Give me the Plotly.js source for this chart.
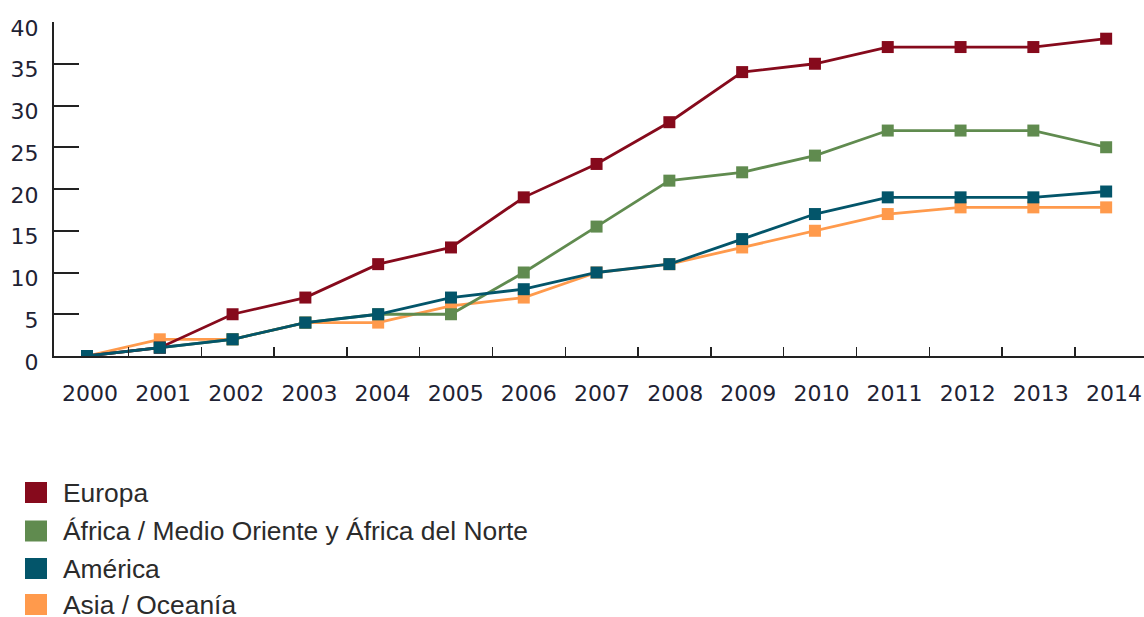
<!DOCTYPE html>
<html>
<head>
<meta charset="utf-8">
<script src="https://cdn.plot.ly/plotly-3.0.1.min.js"></script>
<style>html,body{margin:0;padding:0;background:#fff;}#chart{width:1144px;height:617px;}</style>
</head>
<body>
<div id="chart"></div>
<script>
var years = [2000,2001,2002,2003,2004,2005,2006,2007,2008,2009,2010,2011,2012,2013,2014];
var europa  = [0,1,5,7,11,13,19,23,28,34,35,37,37,37,38];
var africa  = [0,1,2,4,5,5,10,15.5,21,22,24,27,27,27,25];
var america = [0,1,2,4,5,7,8,10,11,14,17,19,19,19,19.7];
var asia    = [0,2,2,4,4,6,7,10,11,13,15,17,17.8,17.8,17.8];
var names = ['Europa','África / Medio Oriente y África del Norte','América','Asia / Oceanía'];
var colors = ['#860a1c','#608b4f','#03556a','#ff9a4c'];
var yTicks = [0,5,10,15,20,25,30,35,40];

var W = 1144, H = 617, ML = 54, MR = 0, MT = 22, MB = 261;
var PW = W - ML - MR, PH = H - MT - MB;
function px(p){ return (p - ML) / PW; }
function py(p){ return (H - MB - p) / PH; }

function line(y, i){
  return {x: years, y: y, type:'scatter', mode:'lines+markers', showlegend:false,
    line:{color:colors[i], width:2.8}, marker:{symbol:'square', size:12, color:colors[i]},
    hoverinfo:'x+y', name:names[i]};
}
var data = [line(asia,3), line(africa,1), line(europa,0), line(america,2)];
// trace carrying the overlay axis used for the year labels
data.push({x:[years[0]], y:[null], xaxis:'x2', yaxis:'y', type:'scatter', mode:'markers', showlegend:false, hoverinfo:'skip'});

// legend drawn as squares + texts
var legRowY = [492.5, 531, 568.5, 604.5];
var shapes = [], annotations = [];
names.forEach(function(n, i){
  var cy = legRowY[i];
  shapes.push({type:'rect', xref:'paper', yref:'paper', x0:px(25), x1:px(47), y0:py(cy-10.5), y1:py(cy+10.5),
    fillcolor:colors[i], line:{width:0}});
  annotations.push({xref:'paper', yref:'paper', x:px(61), y:py(cy), xanchor:'left', yanchor:'middle', text:n,
    showarrow:false, font:{family:'Liberation Sans, Arial, sans-serif', size:26.4, color:'#2b2b2b'}});
});

var dataRange = [1999.547, 2014.52];
var labelRange = [1999.508, 2014.41];
var tickFont = {family:'DejaVu Sans, sans-serif', size:22, color:'#1e2233'};
var layout = {
  width:W, height:H,
  margin:{l:ML, r:MR, t:MT, b:MB},
  paper_bgcolor:'#fff', plot_bgcolor:'#fff',
  font:{family:'DejaVu Sans, sans-serif', color:'#1e2233'},
  showlegend:false,
  xaxis:{range:dataRange, tickvals:years.slice(0,14).map(function(v){return v+0.57;}), ticks:'inside', ticklen:9, tickwidth:1.5,
    tickcolor:'#222', showticklabels:false, showgrid:false, zeroline:false,
    showline:true, linecolor:'#222', linewidth:2, automargin:false},
  xaxis2:{overlaying:'x', anchor:'y', side:'bottom', range:labelRange, tickvals:years, ticktext:years.map(String), tickangle:0,
    ticks:'', showgrid:false, zeroline:false, showline:false, tickfont:tickFont, ticklabelstandoff:22, automargin:false},
  yaxis:{range:[0,40], tickvals:yTicks, ticks:'inside', ticklen:25, tickwidth:2, tickcolor:'#222', showgrid:false, zeroline:false,
    showline:true, linecolor:'#222', linewidth:2, tickfont:tickFont, ticklabelstandoff:9, ticklabelshift:6, automargin:false},
  shapes:shapes,
  annotations:annotations
};
Plotly.newPlot('chart', data, layout, {displayModeBar:false, staticPlot:true});
</script>
</body>
</html>
